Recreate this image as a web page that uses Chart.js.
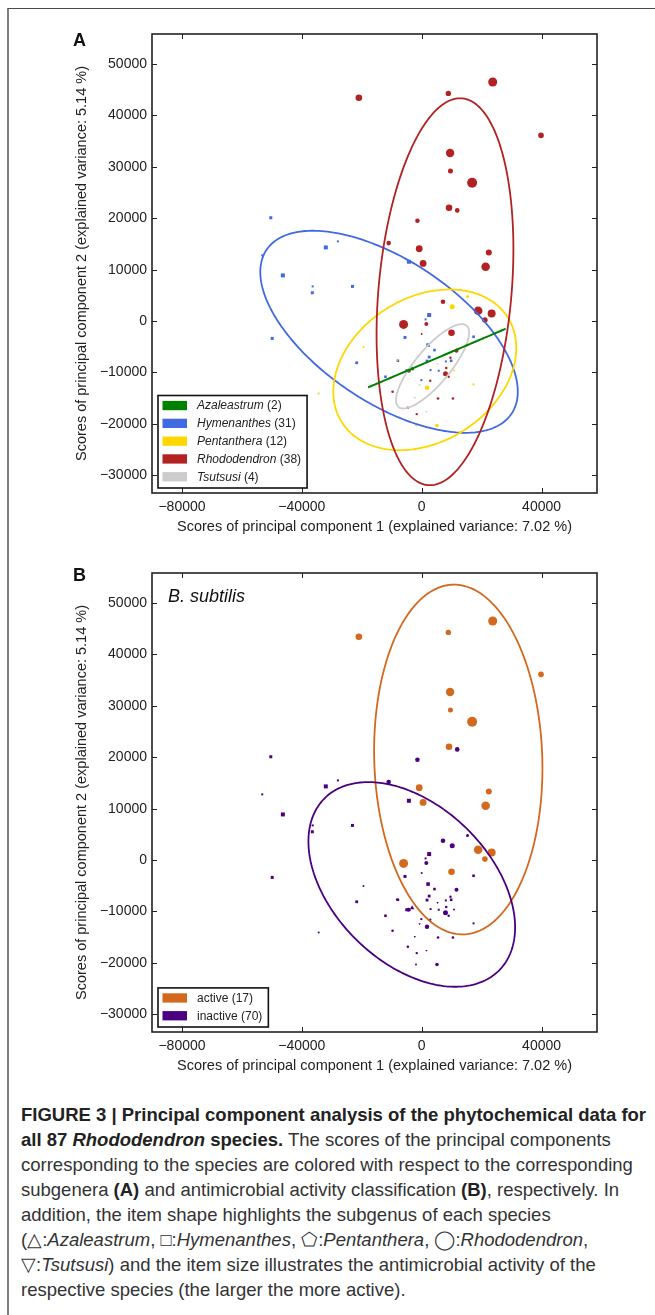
<!DOCTYPE html>
<html>
<head>
<meta charset="utf-8">
<script src="https://cdn.jsdelivr.net/npm/chart.js@4.4.1/dist/chart.umd.min.js"></script>
<style>
  body { margin: 0; width: 655px; height: 1315px; background: #fff; position: relative; overflow: hidden; font-family: "Liberation Sans", Arial, sans-serif; }
  #frame { position: absolute; left: 7px; top: 8px; right: 0; bottom: 0; border-top: 1.5px solid #4a4a4a; border-left: 2px solid #808080; }
  canvas { position: absolute; left: 0; }
  #chartA { top: 0; }
  #chartB { top: 539px; }
  .letter { position: absolute; left: 73px; font-weight: bold; font-size: 18px; line-height: 18px; color: #111; }
  #organism { position: absolute; left: 168px; top: 587px; font-style: italic; font-size: 18px; line-height: 18px; color: #111; }
  #caption { position: absolute; left: 21px; top: 1102px; font-size: 18.5px; line-height: 25px; color: #333; white-space: nowrap; }
  #caption b { color: #222; }
</style>
</head>
<body>
<div id="frame"></div>
<canvas id="chartA" width="655" height="545"></canvas>
<canvas id="chartB" width="655" height="545"></canvas>
<div class="letter" style="top:31px">A</div>
<div class="letter" style="top:566px">B</div>
<div id="organism">B. subtilis</div>
<div id="caption">
  <div><b>FIGURE 3 | Principal component analysis of the phytochemical data for</b></div>
  <div><b>all 87 <i>Rhododendron</i> species.</b> The scores of the principal components</div>
  <div>corresponding to the species are colored with respect to the corresponding</div>
  <div>subgenera <b>(A)</b> and antimicrobial activity classification <b>(B)</b>, respectively. In</div>
  <div>addition, the item shape highlights the subgenus of each species</div>
  <div>(△:<i>Azaleastrum</i>, □:<i>Hymenanthes</i>, ⬠:<i>Pentanthera</i>, ◯:<i>Rhododendron</i>,</div>
  <div>▽:<i>Tsutsusi</i>) and the item size illustrates the antimicrobial activity of the</div>
  <div>respective species (the larger the more active).</div>
</div>
<script>
const xTicks = [-80000, -40000, 0, 40000];
const yTicks = [-30000, -20000, -10000, 0, 10000, 20000, 30000, 40000, 50000];

const subgenusNames = ['Azaleastrum', 'Hymenanthes', 'Pentanthera', 'Rhododendron', 'Tsutsusi'];
const subgenusCounts = [2, 31, 12, 38, 4];
const activityNames = ['active', 'inactive'];
const activityCounts = [17, 70];

// PC1 / PC2 scores per subgenus, plus activity score (0 = inactive .. 1 = most active)
const azaX = [-3200, -4100];
const azaY = [-9300, -9700];
const azaAct = [0.25, 0.1];

const hymX = [-50360, -53210, -32000, -27970, -46330, -36380, -36500, -23110, -4270, 2490, -49890, 1300, -5570, 2130,
  4270, 2490, 1780, -7940, -21690, 17300, 9840, 8060, -4980, 2960, 5690, -120, -12090];
const hymY = [20100, 12780, 14330, 15500, 8880, 6740, 5510, 6740, 11540, 1170, -3370, 320, -3180, -4670,
  -5640, -7000, -7780, -7720, -8110, -3050, -7720, -7850, -9660, -9530, -9660, -11480, -10830];
const hymAct = [0.125, 0, 0.25, 0, 0.25, 0, 0.125, 0.125, 0.25, 0.25, 0.125, 0, 0.125, 0.2,
  0.075, 0.1, 0.1, 0.075, 0.1, 0.075, 0.075, 0, 0.125, 0, 0, 0, 0.075];

const penX = [15290, 10190, -19430, -8300, 10780, 17300, -34370, 1780, -1900, 5100];
const penY = [4800, 2790, -5060, -7650, -9600, -12320, -14070, -12970, -20300, -20300];
const penAct = [0.125, 0.375, 0, 0, 0, 0.025, 0, 0.3, 0, 0.2];

const rhoX = [-20970, 8890, 23700, 39820, 9480, 9600, 16830, 9120, 11850, -1420, -11020, -830, 470, 22400, 21330,
  7110, 18840, 23340, 21090, -6040, 1540, 9950, 0, 11610, 9600, 8180, 7940, 9000, -4380, 2840, -9720, 5450, 10430,
  -4620, -1660];
const rhoY = [43450, 44290, 46500, 36120, 32680, 29180, 26910, 22050, 21530, 19520, 15170, 14070, 11220, 13360, 10570,
  3760, 2010, 1490, 195, -650, -580, -2270, -2530, -5770, -7130, -9140, -10250, -10830, -9660, -11610, -13750, -15050,
  -15050, -16860, -18090];
const rhoAct = [0.575, 0.425, 0.875, 0.45, 0.8, 0.375, 1.0, 0.575, 0.325, 0.325, 0.325, 0.6, 0.6, 0.5, 0.825,
  0.325, 0.825, 0.75, 0.45, 0.875, 0.25, 0.575, 0, 0.25, 0.05, 0.075, 0.375, 0.05, 0.25, 0.05, 0.075, 0.075,
  0.075, 0.075, 0.05];
const rhoActive = [1, 1, 1, 1, 1, 1, 1, 1, 0, 0, 0, 1, 1, 1, 1, 0, 1, 1, 1, 1, 0, 1, 0, 0, 0, 0, 0, 0, 0, 0, 0, 0, 0, 0, 0];

const tsuX = [-2300, 5300, -700, 1600];
const tsuY = [-14900, -8300, -12400, -17600];
const tsuAct = [0, 0, 0, 0];

// confidence ellipses: [centerX, centerY, halfExtentX, halfExtentY, correlation]
const azaEllipse = [5050, -7200, 22950, 5700, 1];
const hymEllipse = [-10900, -2080, 42960, 19650, -0.592];
const penEllipse = [1030, -9480, 30530, 15630, 0.272];
const rhoEllipse = [7770, 5710, 22830, 37630, 0.22];
const tsuEllipse = [3630, -8800, 12170, 8200, 0.8];
const activeEllipse = [12205, 19555, 28085, 34015, -0.05];
const inactiveEllipse = [-3315, -4735, 34485, 19905, -0.42];

const colors = {
  aza: '#008000', hym: '#4169e1', pen: '#ffd700', rho: '#b22222', tsu: '#cccccc',
  active: '#d2691e', inactive: '#4b0082'
};

function radiusOf(a) { return 1 + 4 * a; }

function fmt(v) { return v < 0 ? '\u2212' + Math.abs(v) : String(v); }

function pts(xs, ys) { return xs.map((x, i) => ({ x: x, y: ys[i] })); }

function scatter(xs, ys, acts, color, style, scale, rotation) {
  return {
    type: 'scatter',
    data: pts(xs, ys),
    pointRadius: acts.map(a => radiusOf(a) * scale),
    pointStyle: style,
    rotation: rotation || 0,
    backgroundColor: color,
    borderWidth: 0,
    pointHoverRadius: 0
  };
}

const pcaExtras = {
  id: 'pcaExtras',
  afterDatasetsDraw(chart, args, opts) {
    const ctx = chart.ctx, sx = chart.scales.x, sy = chart.scales.y;
    ctx.save();
    opts.ellipses.forEach(([e, color, lw]) => {
      const [cx, cy, hx, hy, r] = e;
      ctx.beginPath();
      for (let k = 0; k <= 240; k++) {
        const t = k / 240 * 2 * Math.PI;
        const px = sx.getPixelForValue(cx + hx * Math.cos(t));
        const py = sy.getPixelForValue(cy + hy * (r * Math.cos(t) + Math.sqrt(Math.max(0, 1 - r * r)) * Math.sin(t)));
        if (k === 0) ctx.moveTo(px, py); else ctx.lineTo(px, py);
      }
      ctx.strokeStyle = color;
      ctx.lineWidth = lw;
      ctx.stroke();
    });
    ctx.restore();
  },
  afterDraw(chart, args, opts) {
    const ctx = chart.ctx, ca = chart.chartArea, sx = chart.scales.x, sy = chart.scales.y;
    ctx.save();
    // inward ticks on all four sides
    ctx.strokeStyle = '#222';
    ctx.lineWidth = 1;
    ctx.beginPath();
    sx.ticks.forEach(t => {
      const p = Math.round(sx.getPixelForValue(t.value)) + 0.5;
      ctx.moveTo(p, ca.bottom); ctx.lineTo(p, ca.bottom - 5);
      ctx.moveTo(p, ca.top); ctx.lineTo(p, ca.top + 5);
    });
    sy.ticks.forEach(t => {
      const p = Math.round(sy.getPixelForValue(t.value)) + 0.5;
      ctx.moveTo(ca.left, p); ctx.lineTo(ca.left + 5, p);
      ctx.moveTo(ca.right, p); ctx.lineTo(ca.right - 5, p);
    });
    ctx.stroke();
    ctx.lineWidth = 1.6;
    ctx.strokeRect(ca.left, ca.top, ca.right - ca.left, ca.bottom - ca.top);

    // legend box in lower left corner
    const items = opts.legend;
    let maxW = 0;
    items.forEach(it => {
      ctx.font = (it.italic ? 'italic ' : '') + '12px "Liberation Sans", Arial, sans-serif';
      let w = ctx.measureText(it.name).width;
      ctx.font = '12px "Liberation Sans", Arial, sans-serif';
      w += ctx.measureText(' (' + it.count + ')').width;
      maxW = Math.max(maxW, w);
    });
    const rowH = 17.8;
    const bx = ca.left + 6;
    const bh = 10 + (items.length - 1) * rowH + 11.3;
    const by = ca.bottom - 5 - bh;
    const bw = 39 + maxW + 6;
    ctx.fillStyle = '#fff';
    ctx.fillRect(bx, by, bw, bh);
    ctx.strokeStyle = '#111';
    ctx.lineWidth = 1.6;
    ctx.strokeRect(bx, by, bw, bh);
    ctx.textBaseline = 'middle';
    items.forEach((it, i) => {
      const yc = by + 10 + i * rowH;
      ctx.fillStyle = it.color;
      ctx.fillRect(bx + 4.5, yc - 4.6, 24.5, 9.3);
      ctx.fillStyle = '#222';
      ctx.font = (it.italic ? 'italic ' : '') + '12px "Liberation Sans", Arial, sans-serif';
      ctx.fillText(it.name, bx + 39, yc + 0.5);
      const w = ctx.measureText(it.name).width;
      ctx.font = '12px "Liberation Sans", Arial, sans-serif';
      ctx.fillText(' (' + it.count + ')', bx + 39 + w, yc + 0.5);
    });
    ctx.restore();
  }
};

function axisOptions() {
  const tickFont = { family: '"Liberation Sans", Arial, sans-serif', size: 14 };
  const titleFont = { family: '"Liberation Sans", Arial, sans-serif', size: 14.5 };
  return {
    x: {
      type: 'linear', min: -90000, max: 58500,
      afterBuildTicks: s => { s.ticks = xTicks.map(v => ({ value: v })); },
      afterFit: s => { s.height = 47; },
      grid: { display: false, drawTicks: false },
      border: { display: false },
      ticks: { font: tickFont, color: '#222', padding: 6, maxRotation: 0, callback: v => fmt(v) },
      title: { display: true, text: 'Scores of principal component 1 (explained variance: 7.02 %)', font: titleFont, color: '#222', padding: 4 }
    },
    y: {
      type: 'linear', min: -33440, max: 55840,
      afterBuildTicks: s => { s.ticks = yTicks.map(v => ({ value: v })); },
      afterFit: s => { s.width = 83; },
      grid: { display: false, drawTicks: false },
      border: { display: false },
      ticks: { font: tickFont, color: '#222', padding: 5, callback: v => fmt(v) },
      title: { display: true, text: 'Scores of principal component 2 (explained variance: 5.14 %)', font: titleFont, color: '#222', padding: 4 }
    }
  };
}

function baseOptions(ellipses, legend) {
  return {
    responsive: false,
    animation: false,
    devicePixelRatio: 1,
    layout: { padding: { left: 69, right: 58, top: 34, bottom: 5 } },
    scales: axisOptions(),
    plugins: {
      legend: { display: false },
      tooltip: { enabled: false },
      pcaExtras: { ellipses: ellipses, legend: legend }
    }
  };
}

const groupColors = [colors.aza, colors.hym, colors.pen, colors.rho, colors.tsu];

// panel A: colored by subgenus
new Chart(document.getElementById('chartA'), {
  type: 'scatter',
  data: {
    datasets: [
      scatter(rhoX, rhoY, rhoAct, colors.rho, 'circle', 1),
      scatter(penX, penY, penAct, colors.pen, 'circle', 1),
      scatter(hymX, hymY, hymAct, colors.hym, 'rect', Math.SQRT2),
      scatter(azaX, azaY, azaAct, colors.aza, 'triangle', 1.3),
      scatter(tsuX, tsuY, tsuAct, colors.tsu, 'triangle', 1.3, 180)
    ]
  },
  options: baseOptions(
    [[hymEllipse, colors.hym, 1.8], [penEllipse, colors.pen, 1.8], [rhoEllipse, colors.rho, 1.8],
     [tsuEllipse, colors.tsu, 1.8], [azaEllipse, colors.aza, 2]],
    subgenusNames.map((n, i) => ({ name: n, count: subgenusCounts[i], color: groupColors[i], italic: true }))
  ),
  plugins: [pcaExtras]
});

// panel B: colored by antimicrobial activity against B. subtilis
const rhoB = scatter(rhoX, rhoY, rhoAct, colors.inactive, 'circle', 1);
rhoB.backgroundColor = rhoActive.map(a => a ? colors.active : colors.inactive);
new Chart(document.getElementById('chartB'), {
  type: 'scatter',
  data: {
    datasets: [
      rhoB,
      scatter(penX, penY, penAct, colors.inactive, 'circle', 1),
      scatter(hymX, hymY, hymAct, colors.inactive, 'rect', Math.SQRT2),
      scatter(azaX, azaY, azaAct, colors.inactive, 'triangle', 1.3),
      scatter(tsuX, tsuY, tsuAct, colors.inactive, 'triangle', 1.3, 180)
    ]
  },
  options: baseOptions(
    [[activeEllipse, colors.active, 1.8], [inactiveEllipse, colors.inactive, 1.8]],
    activityNames.map((n, i) => ({ name: n, count: activityCounts[i], color: i ? colors.inactive : colors.active, italic: false }))
  ),
  plugins: [pcaExtras]
});
</script>
</body>
</html>
